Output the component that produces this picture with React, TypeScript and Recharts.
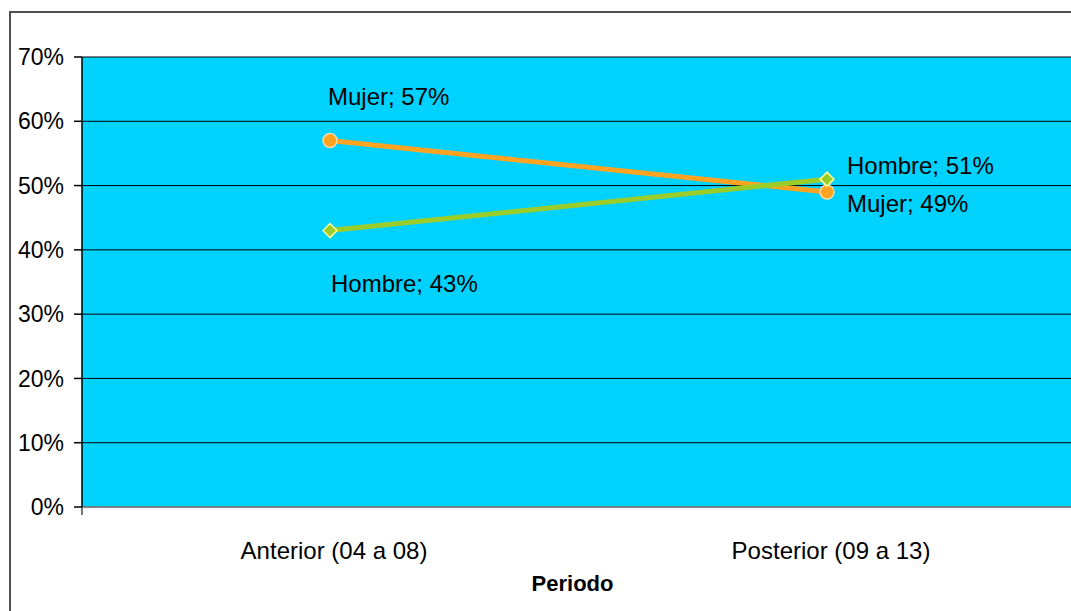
import { LineChart, Line, XAxis, YAxis, CartesianGrid, LabelList } from "recharts";

const periodos = ["Anterior (04 a 08)", "Posterior (09 a 13)"];
const mujer = [0.57, 0.49];
const hombre = [0.43, 0.51];
const yTicks = [0, 0.1, 0.2, 0.3, 0.4, 0.5, 0.6, 0.7];

const data = periodos.map((periodo, i) => ({ periodo, mujer: mujer[i], hombre: hombre[i] }));

const FONT = "'Liberation Sans', Arial, sans-serif";
const pct = (v: number) => `${Math.round(v * 100)}%`;

// label offsets per point (dx, dy from the marker)
const mujerOffsets = [[-2, -44], [20, 11]];
const hombreOffsets = [[1, 53], [20, -14]];

const makeLabel = (name: string, offsets: number[][]) => (props: any) => {
  const { x, y, value, index } = props;
  const [dx, dy] = offsets[index];
  return (
    <text x={x + dx} y={y + dy} fontSize={24} fontFamily={FONT} fill="#000" textAnchor="start" dominantBaseline="central">
      {`${name}; ${pct(value)}`}
    </text>
  );
};

const CircleDot = (props: any) => {
  const { cx, cy } = props;
  return <circle cx={cx} cy={cy} r={7} fill="#FFA321" stroke="#FFD9A6" strokeWidth={1.5} />;
};

const DiamondDot = (props: any) => {
  const { cx, cy } = props;
  const s = 7;
  return (
    <polygon
      points={`${cx},${cy - s} ${cx + s},${cy} ${cx},${cy + s} ${cx - s},${cy}`}
      fill="#9ACD2A"
      stroke="#FFFF99"
      strokeWidth={1.5}
    />
  );
};

const CategoryTick = (props: any) => {
  const { x, y, payload } = props;
  return (
    <text x={x + 4} y={y + 34} fontSize={24} fontFamily={FONT} fill="#000" textAnchor="middle" dominantBaseline="central">
      {payload.value}
    </text>
  );
};

const EmptyTick = () => <g />;

export default function App() {
  return (
    <div style={{ position: "absolute", left: 0, top: 0, width: 1071, height: 611, overflow: "hidden", background: "#fff" }}>
      <div
        style={{
          position: "absolute",
          left: 9,
          top: 11,
          width: 1200,
          height: 800,
          border: "2px solid #505050",
        }}
      />
      <div style={{ position: "absolute", left: 0, top: 0 }}>
        <LineChart width={1100} height={611} data={data} margin={{ top: 57, right: 25, bottom: 0, left: 0 }}>
          <CartesianGrid xAxisId="axisB" vertical={false} horizontal stroke="#000" strokeWidth={1} fill="#00D2FF" fillOpacity={1} />
          {/* frame axis: tick marks on the category boundaries */}
          <XAxis
            xAxisId="axisA"
            type="number"
            domain={[0, 2]}
            ticks={[0, 1, 2]}
            tick={<EmptyTick />}
            tickSize={8}
            height={1}
            axisLine={{ stroke: "#888", strokeWidth: 1.5 }}
            tickLine={{ stroke: "#777", strokeWidth: 2 }}
            allowDataOverflow
          />
          <XAxis
            xAxisId="axisB"
            dataKey="periodo"
            height={103}
            padding={{ left: 248, right: 248 }}
            axisLine={false}
            tickLine={false}
            tick={<CategoryTick />}
            interval={0}
            label={(p: any) => {
              const vb = p.viewBox;
              return (
                <text
                  x={vb.x + vb.width / 2 - 6}
                  y={vb.y + 75}
                  fontSize={22}
                  fontWeight="bold"
                  fontFamily={FONT}
                  fill="#000"
                  textAnchor="middle"
                  dominantBaseline="central"
                >
                  Periodo
                </text>
              );
            }}
          />
          <YAxis
            width={82}
            domain={[0, 0.7]}
            ticks={yTicks}
            tickFormatter={pct}
            tickSize={8}
            tickMargin={10}
            axisLine={{ stroke: "#000", strokeWidth: 1.5 }}
            tickLine={{ stroke: "#000", strokeWidth: 1.5 }}
            tick={{ fill: "#000", fontSize: 23, fontFamily: FONT }}
            allowDataOverflow
          />
          <Line
            xAxisId="axisB"
            dataKey="mujer"
            stroke="#FFA321"
            strokeWidth={5}
            dot={<CircleDot />}
            activeDot={false}
            isAnimationActive={false}
          >
            <LabelList dataKey="mujer" content={makeLabel("Mujer", mujerOffsets)} />
          </Line>
          <Line
            xAxisId="axisB"
            dataKey="hombre"
            stroke="#9ACD2A"
            strokeWidth={5}
            dot={<DiamondDot />}
            activeDot={false}
            isAnimationActive={false}
          >
            <LabelList dataKey="hombre" content={makeLabel("Hombre", hombreOffsets)} />
          </Line>
        </LineChart>
      </div>
    </div>
  );
}
